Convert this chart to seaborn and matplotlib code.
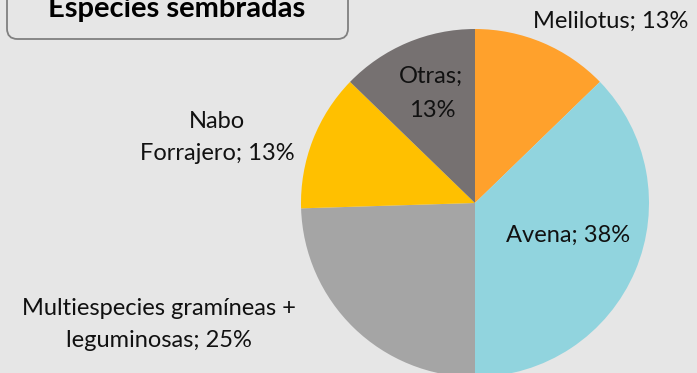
import matplotlib
matplotlib.use("Agg")
import matplotlib.pyplot as plt
from matplotlib.patches import FancyBboxPatch
import seaborn as sns

# Share of sown species (%), clockwise from 12 o'clock
species = ["Melilotus", "Avena", "Multiespecies gramíneas +\nleguminosas", "Nabo\nForrajero", "Otras"]
shares = [13, 38, 25, 13, 13]
slice_colors = ["#FFA12C", "#91D4DE", "#A5A5A5", "#FFC000", "#767171"]

BG = "#E6E6E6"
sns.set_theme(style="white")
plt.rcParams["font.family"] = ["Lato", "DejaVu Sans"]

W, H, DPI = 697, 373, 100
fig = plt.figure(figsize=(W / DPI, H / DPI), dpi=DPI, facecolor=BG)
ax = fig.add_axes([0, 0, 1, 1])
ax.set_facecolor(BG)

# pie of radius 1 centred at the origin; 174 px per data unit
cx, cy, r = 475, 203, 174

ax.pie(shares, colors=slice_colors, startangle=90, counterclock=False,
       radius=1, center=(0, 0), wedgeprops=dict(linewidth=0),
       frame=False)
ax.set_xlim((0 - cx) / r, (W - cx) / r)
ax.set_ylim((cy - H) / r, (cy - 0) / r)
ax.set_aspect("equal")
ax.axis("off")


def px(x, y):
    """pixel position -> data coordinates"""
    return (x - cx) / r, (cy - y) / r


fs = 17
# label lines: (text, centre x, baseline y) in pixels
multi_1, multi_2 = species[2].split("\n")
nabo_1, nabo_2 = species[3].split("\n")
label_lines = [
    (f"{species[0]}; {shares[0]}%", 611, 28),
    (f"{species[1]}; {shares[1]}%", 568, 242),
    (multi_1, 159, 315),
    (f"{multi_2}; {shares[2]}%", 159, 347),
    (nabo_1, 217, 128),
    (f"{nabo_2}; {shares[3]}%", 217, 160),
    (f"{species[4]};", 431, 83),
    (f"{shares[4]}%", 432, 117),
]
for txt, x, y in label_lines:
    X, Y = px(x, y)
    ax.text(X, Y, txt, ha="center", va="baseline", fontsize=fs, color="#111111")

# title box
x0, y0 = px(7, 39)
x1, y1 = px(348, -20)
box = FancyBboxPatch((x0, y0), x1 - x0, y1 - y0,
                     boxstyle="round,pad=0,rounding_size=0.06",
                     facecolor=BG, edgecolor="#808080", linewidth=1.3,
                     clip_on=False, zorder=3)
ax.add_patch(box)
tx, ty = px(177, 17)
ax.text(tx, ty, "Especies sembradas", ha="center", va="baseline",
        fontsize=21, fontweight="bold", color="#000000", zorder=4)

fig.savefig("out.png", dpi=DPI, facecolor=BG)
